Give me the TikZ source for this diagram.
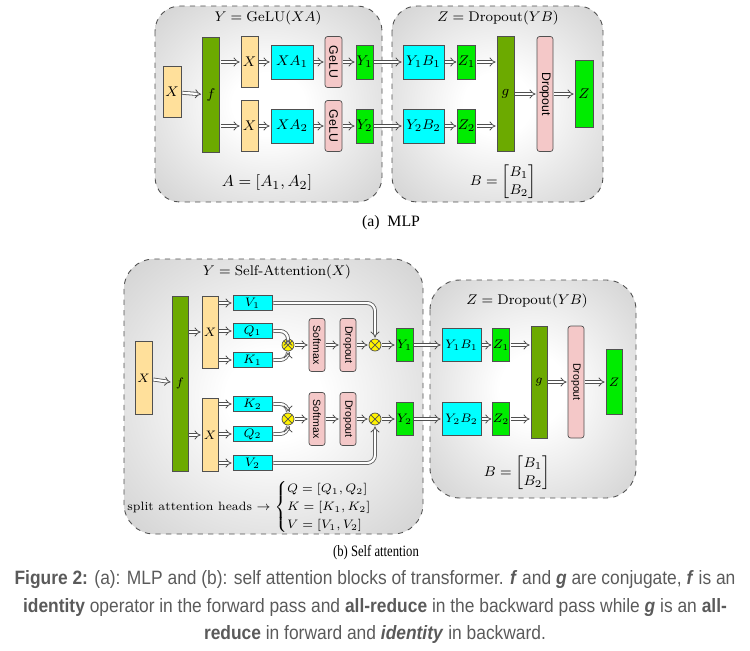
\documentclass[tikz,border=0pt]{standalone}
\usepackage{amsmath}
\usepackage{fontspec}
\setsansfont{Liberation Sans}
\newfontfamily\capserif{Liberation Serif}
\newfontfamily\capserifn[FakeStretch=0.8]{Liberation Serif}
\newfontfamily\capsans[FakeStretch=0.9]{Liberation Sans}
\usetikzlibrary{arrows.meta,positioning}

\definecolor{xyellow}{RGB}{255,224,155}
\definecolor{fgreen}{RGB}{108,170,0}
\definecolor{ygreen}{RGB}{0,236,0}
\definecolor{ablue}{RGB}{0,255,255}
\definecolor{opink}{RGB}{244,200,200}
\definecolor{edge}{RGB}{80,80,80}
\definecolor{capgray}{RGB}{90,90,90}
\definecolor{panelgray}{RGB}{186,186,186}

\pgfdeclareradialshading{panelshade}{\pgfpoint{0bp}{0bp}}{%
  color(0bp)=(white); color(8bp)=(white); color(50bp)=(panelgray)}

\tikzset{
  sz/.style 2 args={minimum width=#1*0.02cm, minimum height=#2*0.02cm},
  blk/.style={draw=edge, line width=0.4pt, inner sep=0pt, font=\fontsize{8}{9}\selectfont},
  xblk/.style={blk, fill=xyellow},
  fblk/.style={blk, fill=fgreen},
  yblk/.style={blk, fill=ygreen},
  mblk/.style={blk, fill=ablue},
  opblk/.style={blk, fill=opink, rounded corners=1.5pt, rotate=-90, font=\sffamily\fontsize{7}{8}\selectfont},
  mult/.style={circle, draw=edge, fill=yellow, inner sep=0pt, minimum size=0.24cm,
    path picture={\draw[edge, line width=0.4pt]
      (path picture bounding box.north west) -- (path picture bounding box.south east)
      (path picture bounding box.north east) -- (path picture bounding box.south west);}},
  arr/.style={draw=edge, line width=0.45pt, double=white, double distance=1.3pt, -{Implies}, shorten <=0.6pt, shorten >=0.6pt},
  panel/.style={draw=edge, dashed, line width=0.5pt, shading=panelshade},
  ttl/.style={font=\fontsize{8}{9}\selectfont},
}

\begin{document}
\begin{tikzpicture}[x=0.02cm, y=-0.02cm]
\useasboundingbox (0,0) rectangle (750,650);

% (a) MLP
\path[panel, rounded corners=0.5cm] (155,6) rectangle (382,202);
\path[panel, rounded corners=0.5cm] (392,6) rectangle (603,202);
\node[ttl] (ttlya) at (268,18) {$Y=\mathrm{GeLU}(XA)$};
\node[ttl] (ttlza) at (498,18) {$Z=\mathrm{Dropout}(YB)$};
\node[font=\fontsize{9.5}{11}\selectfont] (eqa) at (267,183) {$A=[A_1,A_2]$};
\node[font=\fontsize{8.5}{10}\selectfont] (eqb) at (503,182) {$B=\begin{bmatrix}B_1\\B_2\end{bmatrix}$};

\node[xblk, sz={18}{51}] (xa) at (172,92) {$X$};
\node[fblk, sz={17}{115}] (fa) at (211,95) {$f$};
\node[xblk, sz={17}{51}] (xa1) at (249.5,62) {$X$};
\node[xblk, sz={17}{51}] (xa2) at (249.5,126) {$X$};
\node[mblk, sz={42}{34}] (xaa1) at (292,62) {$XA_1$};
\node[mblk, sz={42}{34}] (xaa2) at (292,126) {$XA_2$};
\node[opblk, sz={51}{17}] (gelu1) at (333.5,62) {GeLU};
\node[opblk, sz={51}{17}] (gelu2) at (333.5,126) {GeLU};
\node[yblk, sz={17}{34}] (ya1) at (364.5,62) {$Y_1$};
\node[yblk, sz={17}{34}] (ya2) at (364.5,126) {$Y_2$};
\node[mblk, sz={41}{34}] (yba1) at (423.5,62) {$Y_1B_1$};
\node[mblk, sz={41}{34}] (yba2) at (423.5,126) {$Y_2B_2$};
\node[yblk, sz={17}{34}] (zza1) at (466.5,62) {$Z_1$};
\node[yblk, sz={17}{34}] (zza2) at (466.5,126) {$Z_2$};
\node[fblk, sz={17}{115}] (ga) at (505.5,94) {$g$};
\node[opblk, sz={115}{16}] (dra) at (545,94) {Dropout};
\node[yblk, sz={18}{67}] (za) at (584,94) {$Z$};

\draw[arr] (xa) -- (fa);
\foreach \i in {1,2} {
  \draw[arr] (fa.east |- xa\i) -- (xa\i);
  \draw[arr] (xa\i) -- (xaa\i);
  \draw[arr] (xaa\i) -- (gelu\i);
  \draw[arr] (gelu\i) -- (ya\i);
  \draw[arr] (ya\i) -- (yba\i);
  \draw[arr] (yba\i) -- (zza\i);
  \draw[arr] (zza\i) -- (zza\i -| ga.west);
}
\draw[arr] (ga) -- (dra);
\draw[arr] (dra) -- (za);
\node[font=\capserif\fontsize{9}{10}\selectfont] (capa) at (391,223) {(a)\enspace MLP};

% (b) Self attention
\path[panel, rounded corners=0.6cm] (124,259) rectangle (423,534);
\path[panel, rounded corners=0.6cm] (430,280) rectangle (636,498);
\node[ttl] (ttlyb) at (277,272) {$Y=\text{Self-Attention}(X)$};
\node[ttl] (ttlzb) at (527,301) {$Z=\mathrm{Dropout}(YB)$};
\node[font=\fontsize{8.5}{10}\selectfont] (eqbb) at (517,473) {$B=\begin{bmatrix}B_1\\B_2\end{bmatrix}$};
\node[font=\fontsize{6.9}{8.4}\selectfont] (heads) at (256,507)
  {split attention heads $\rightarrow\begin{cases}Q=[Q_1,Q_2]\\K=[K_1,K_2]\\V=[V_1,V_2]\end{cases}$};

\begin{scope}[blk/.append style={font=\fontsize{7.2}{8}\selectfont},
              opblk/.append style={font=\sffamily\fontsize{6}{7}\selectfont}]
\node[xblk, sz={17}{73}] (xb) at (143.5,378) {$X$};
\node[fblk, sz={16}{175}] (fb) at (180,383.5) {$f$};
\node[xblk, sz={16}{72}] (xb1) at (210,332) {$X$};
\node[xblk, sz={16}{73}] (xb2) at (210,435) {$X$};
\node[mblk, sz={39}{15}] (v1) at (252.5,303) {$V_1$};
\node[mblk, sz={39}{15}] (q1) at (252.5,331) {$Q_1$};
\node[mblk, sz={39}{15}] (k1) at (252.5,360) {$K_1$};
\node[mblk, sz={39}{15}] (k2) at (252.5,404) {$K_2$};
\node[mblk, sz={39}{15}] (q2) at (252.5,434) {$Q_2$};
\node[mblk, sz={39}{15}] (v2) at (252.5,463) {$V_2$};
\node[mult] (ma1) at (288,345) {};
\node[mult] (ma2) at (288,419) {};
\node[opblk, sz={53}{16}] (sm1) at (317,345) {Softmax};
\node[opblk, sz={53}{16}] (sm2) at (317,419) {Softmax};
\node[opblk, sz={53}{16}] (dr1) at (348,345) {Dropout};
\node[opblk, sz={53}{16}] (dr2) at (348,419) {Dropout};
\node[mult] (mb1) at (375,345) {};
\node[mult] (mb2) at (375,419) {};
\node[yblk, sz={17}{33}] (yc1) at (404.5,345) {$Y_1$};
\node[yblk, sz={17}{33}] (yc2) at (404.5,419) {$Y_2$};
\node[mblk, sz={39}{33}] (ycb1) at (461.5,345) {$Y_1B_1$};
\node[mblk, sz={39}{33}] (ycb2) at (461.5,419) {$Y_2B_2$};
\node[yblk, sz={16}{33}] (zc1) at (501,345) {$Z_1$};
\node[yblk, sz={16}{33}] (zc2) at (501,419) {$Z_2$};
\node[fblk, sz={16}{112}] (gb) at (539,382) {$g$};
\node[opblk, sz={112}{16}] (drb) at (576,382) {Dropout};
\node[yblk, sz={16}{65}] (zb) at (614,382) {$Z$};
\end{scope}

\draw[arr] (xb) -- (fb);
\draw[arr] (fb.east |- xb1) -- (xb1);
\draw[arr] (fb.east |- xb2) -- (xb2);
\foreach \n in {v1,q1,k1} \draw[arr] (xb1.east |- \n) -- (\n);
\foreach \n in {k2,q2,v2} \draw[arr] (xb2.east |- \n) -- (\n);
\draw[arr, rounded corners=4.5pt] (q1) -| (ma1);
\draw[arr, rounded corners=4.5pt] (k1) -| (ma1);
\draw[arr, rounded corners=4.5pt] (k2) -| (ma2);
\draw[arr, rounded corners=4.5pt] (q2) -| (ma2);
\draw[arr, rounded corners=4.5pt] (v1) -| (mb1);
\draw[arr, rounded corners=4.5pt] (v2) -| (mb2);
\foreach \i in {1,2} {
  \draw[arr] (ma\i) -- (sm\i);
  \draw[arr] (sm\i) -- (dr\i);
  \draw[arr] (dr\i) -- (mb\i);
  \draw[arr] (mb\i) -- (yc\i);
  \draw[arr] (yc\i) -- (ycb\i);
  \draw[arr] (ycb\i) -- (zc\i);
  \draw[arr] (zc\i) -- (zc\i -| gb.west);
}
\draw[arr] (gb) -- (drb);
\draw[arr] (drb) -- (zb);
\node[font=\capserifn\fontsize{9}{10}\selectfont] (capb) at (376,553) {(b) Self attention};

% figure caption
\node[font=\capsans\fontsize{11}{15.9}\selectfont, text=capgray, align=center] (fig) at (375,607)
  {\textbf{Figure 2:} (a): MLP and (b): self attention blocks of transformer. \textbf{\textit{f}} and \textbf{\textit{g}} are conjugate, \textbf{\textit{f}} is an\\
   \textbf{identity} operator in the forward pass and \textbf{all-reduce} in the backward pass while \textbf{\textit{g}} is an \textbf{all-}\\
   \textbf{reduce} in forward and \textbf{\textit{identity}} in backward.};
\end{tikzpicture}
\end{document}
